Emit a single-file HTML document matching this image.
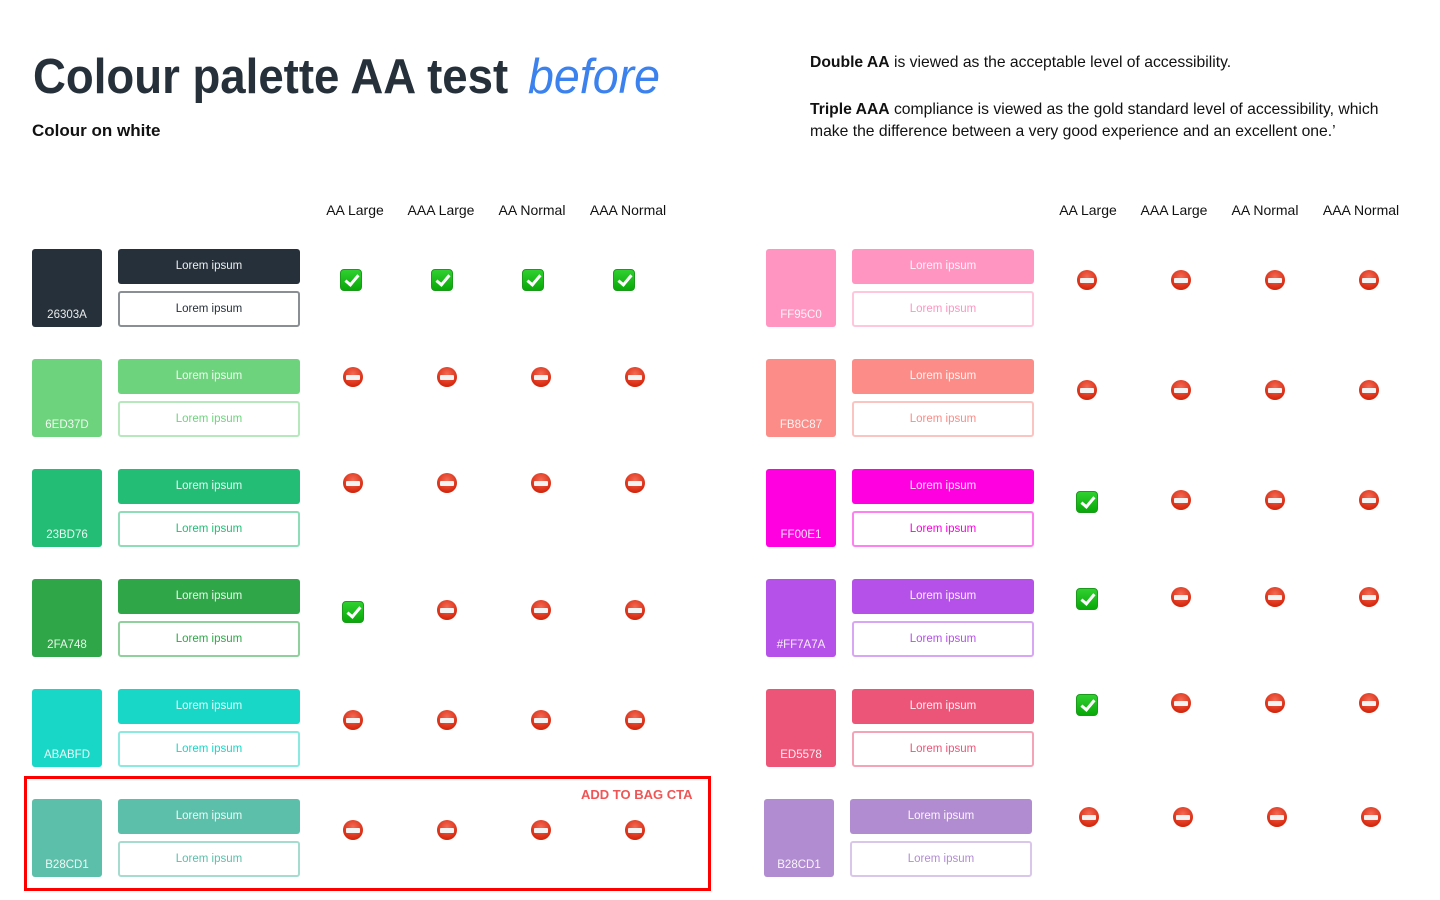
<!DOCTYPE html>
<html><head><meta charset="utf-8">
<style>
*{margin:0;padding:0;box-sizing:border-box}
body{width:1440px;height:900px;background:#fff;position:relative;overflow:hidden;font-family:"Liberation Sans",Arial,sans-serif;color:#111}
.a{position:absolute}
.r{position:absolute;width:270px;height:80px}
.sw{position:absolute;left:0;top:0;width:70px;height:78px;border-radius:3px;background:var(--c);color:rgba(255,255,255,.9);font-size:11.5px;text-align:center;padding-top:60px}
.f{position:absolute;left:86px;top:0;width:182px;height:35px;border-radius:3px;background:var(--c);color:rgba(255,255,255,.92);font-size:11.5px;text-align:center;line-height:35px}
.o{position:absolute;left:86px;top:42px;width:182px;height:36px;border-radius:3px;border:2px solid var(--b);color:var(--c);font-size:11.5px;text-align:center;line-height:32px;background:#fff}
.ok{position:absolute;width:22px;height:22px;border-radius:4px;background:linear-gradient(#2fd02f,#08a808);border:1px solid #1b9a1b}
.ok:after{content:"";position:absolute;left:7px;top:2px;width:5px;height:11px;border:solid #fff;border-width:0 3px 3px 0;transform:rotate(40deg)}
.no{position:absolute;width:20px;height:20px;border-radius:50%;background:radial-gradient(circle at 50% 35%,#f46b55,#d72a10 70%,#b71c06)}
.no:after{content:"";position:absolute;left:3px;top:7.5px;width:14px;height:5px;background:#f3f3f3;border-radius:1px}
.h{position:absolute;top:202px;font-size:14px;color:#111;transform:translateX(-50%);white-space:nowrap}
</style></head><body>
<div class="a" style="left:33px;top:49px;font-size:49px;font-weight:bold;color:#26303A;transform:scaleX(.93);transform-origin:left;white-space:nowrap">Colour palette AA test</div>
<div class="a" style="left:528px;top:49px;font-size:49px;font-style:italic;color:#3B82EE;transform:scaleX(.95);transform-origin:left">before</div>
<div class="a" style="left:32px;top:121px;font-size:17px;font-weight:bold;color:#111">Colour on white</div>
<div class="a" style="left:810px;top:54px;font-size:15.7px;color:#111;white-space:nowrap"><b>Double AA</b> is viewed as the acceptable level of accessibility.</div>
<div class="a" style="left:810px;top:99px;font-size:15.7px;line-height:22px;color:#111;white-space:nowrap"><b>Triple AAA</b> compliance is viewed as the gold standard level of accessibility, which<br>make the difference between a very good experience and an excellent one.’</div>

<div class="h" style="left:355px">AA Large</div><div class="h" style="left:441px">AAA Large</div><div class="h" style="left:532px">AA Normal</div><div class="h" style="left:628px">AAA Normal</div>
<div class="h" style="left:1088px">AA Large</div><div class="h" style="left:1174px">AAA Large</div><div class="h" style="left:1265px">AA Normal</div><div class="h" style="left:1361px">AAA Normal</div>

<div class="a" style="left:24px;top:776px;width:687px;height:115px;border:3px solid #f00"></div>
<div class="a" style="left:581px;top:787px;font-size:13px;font-weight:bold;color:#F05555">ADD TO BAG CTA</div>

<div class="r" style="left:32px;top:249px;--c:#26303A;--b:#8a8f96"><div class="sw">26303A</div><div class="f">Lorem ipsum</div><div class="o" style="color:#26303A">Lorem ipsum</div></div>
<div class="r" style="left:32px;top:359px;--c:#6ED37D;--b:#b5e8bd"><div class="sw">6ED37D</div><div class="f">Lorem ipsum</div><div class="o">Lorem ipsum</div></div>
<div class="r" style="left:32px;top:469px;--c:#23BD76;--b:#8fdcb8"><div class="sw">23BD76</div><div class="f">Lorem ipsum</div><div class="o">Lorem ipsum</div></div>
<div class="r" style="left:32px;top:579px;--c:#2FA748;--b:#8fd09c"><div class="sw">2FA748</div><div class="f">Lorem ipsum</div><div class="o">Lorem ipsum</div></div>
<div class="r" style="left:32px;top:689px;--c:#19D7C6;--b:#8aeae1"><div class="sw">ABABFD</div><div class="f">Lorem ipsum</div><div class="o">Lorem ipsum</div></div>
<div class="r" style="left:32px;top:799px;--c:#5BBFA9;--b:#a6dccf"><div class="sw">B28CD1</div><div class="f">Lorem ipsum</div><div class="o">Lorem ipsum</div></div>

<div class="r" style="left:766px;top:249px;--c:#FF95C0;--b:#ffc6dc"><div class="sw">FF95C0</div><div class="f">Lorem ipsum</div><div class="o">Lorem ipsum</div></div>
<div class="r" style="left:766px;top:359px;--c:#FB8C87;--b:#fcc4c1"><div class="sw">FB8C87</div><div class="f">Lorem ipsum</div><div class="o">Lorem ipsum</div></div>
<div class="r" style="left:766px;top:469px;--c:#FF00E1;--b:#ff80f0"><div class="sw">FF00E1</div><div class="f">Lorem ipsum</div><div class="o">Lorem ipsum</div></div>
<div class="r" style="left:766px;top:579px;--c:#B551E8;--b:#d9a6f3"><div class="sw">#FF7A7A</div><div class="f">Lorem ipsum</div><div class="o">Lorem ipsum</div></div>
<div class="r" style="left:766px;top:689px;--c:#ED5578;--b:#f5a3b6"><div class="sw">ED5578</div><div class="f">Lorem ipsum</div><div class="o">Lorem ipsum</div></div>
<div class="r" style="left:764px;top:799px;--c:#B28CD1;--b:#dac6ea"><div class="sw">B28CD1</div><div class="f">Lorem ipsum</div><div class="o">Lorem ipsum</div></div>

<div class="ok" style="left:340px;top:269px"></div><div class="ok" style="left:431px;top:269px"></div><div class="ok" style="left:522px;top:269px"></div><div class="ok" style="left:613px;top:269px"></div>
<div class="no" style="left:343px;top:367px"></div><div class="no" style="left:437px;top:367px"></div><div class="no" style="left:531px;top:367px"></div><div class="no" style="left:625px;top:367px"></div>
<div class="no" style="left:343px;top:473px"></div><div class="no" style="left:437px;top:473px"></div><div class="no" style="left:531px;top:473px"></div><div class="no" style="left:625px;top:473px"></div>
<div class="ok" style="left:342px;top:601px"></div><div class="no" style="left:437px;top:600px"></div><div class="no" style="left:531px;top:600px"></div><div class="no" style="left:625px;top:600px"></div>
<div class="no" style="left:343px;top:710px"></div><div class="no" style="left:437px;top:710px"></div><div class="no" style="left:531px;top:710px"></div><div class="no" style="left:625px;top:710px"></div>
<div class="no" style="left:343px;top:820px"></div><div class="no" style="left:437px;top:820px"></div><div class="no" style="left:531px;top:820px"></div><div class="no" style="left:625px;top:820px"></div>

<div class="no" style="left:1077px;top:270px"></div><div class="no" style="left:1171px;top:270px"></div><div class="no" style="left:1265px;top:270px"></div><div class="no" style="left:1359px;top:270px"></div>
<div class="no" style="left:1077px;top:380px"></div><div class="no" style="left:1171px;top:380px"></div><div class="no" style="left:1265px;top:380px"></div><div class="no" style="left:1359px;top:380px"></div>
<div class="ok" style="left:1076px;top:491px"></div><div class="no" style="left:1171px;top:490px"></div><div class="no" style="left:1265px;top:490px"></div><div class="no" style="left:1359px;top:490px"></div>
<div class="ok" style="left:1076px;top:588px"></div><div class="no" style="left:1171px;top:587px"></div><div class="no" style="left:1265px;top:587px"></div><div class="no" style="left:1359px;top:587px"></div>
<div class="ok" style="left:1076px;top:694px"></div><div class="no" style="left:1171px;top:693px"></div><div class="no" style="left:1265px;top:693px"></div><div class="no" style="left:1359px;top:693px"></div>
<div class="no" style="left:1079px;top:807px"></div><div class="no" style="left:1173px;top:807px"></div><div class="no" style="left:1267px;top:807px"></div><div class="no" style="left:1361px;top:807px"></div>
</body></html>
